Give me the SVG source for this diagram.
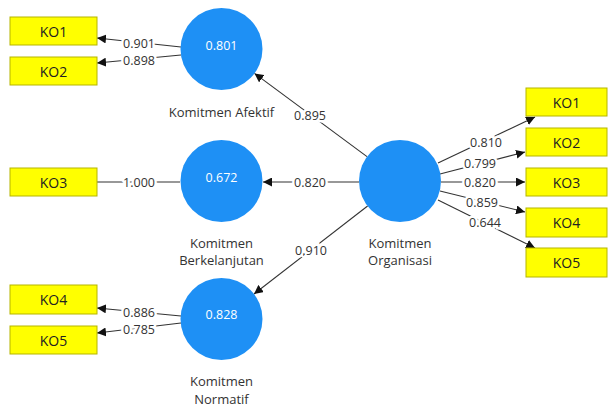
<svg xmlns="http://www.w3.org/2000/svg" width="608" height="409" viewBox="0 0 608 409">
<style>
.box{fill:#ffff00;stroke:#b5b500;stroke-width:1}
.lv{fill:#1e90f5}
.bt{font-family:"Open Sans",sans-serif;font-size:14px;fill:#222;text-anchor:middle;dominant-baseline:central}
.vt{font-family:"Open Sans",sans-serif;font-size:12.5px;fill:#fff;text-anchor:middle;dominant-baseline:central}
.nt{font-family:"Open Sans",sans-serif;font-size:13px;fill:#333;text-anchor:middle;dominant-baseline:central}
.lt{font-family:"Open Sans",sans-serif;font-size:12.5px;fill:#333;text-anchor:middle;dominant-baseline:central;stroke:#fff;stroke-width:5;paint-order:stroke}
.ln{stroke:#333;stroke-width:1.1;fill:none}
.ar{marker-end:url(#ah)}
</style>
<defs>
<marker id="ah" viewBox="0 0 10 10" refX="10" refY="5" markerWidth="9" markerHeight="9" markerUnits="userSpaceOnUse" orient="auto">
<path d="M0,0 L10,5 L0,10 z" fill="#111"/>
</marker>
</defs>
<rect width="608" height="409" fill="#fff"/>
<g id="connectors">
<line class="ln ar" x1="181" y1="47" x2="97" y2="38"/>
<line class="ln ar" x1="181" y1="55" x2="97" y2="63"/>
<line class="ln" x1="180" y1="182" x2="97" y2="182"/>
<line class="ln ar" x1="181" y1="316" x2="97" y2="308"/>
<line class="ln ar" x1="181" y1="323" x2="97" y2="333"/>
<line class="ln ar" x1="367" y1="156.6" x2="254.5" y2="73.4"/>
<line class="ln ar" x1="359" y1="182" x2="263" y2="182"/>
<line class="ln ar" x1="367.6" y1="206" x2="254" y2="294"/>
<line class="ln ar" x1="438" y1="163" x2="535" y2="117"/>
<line class="ln ar" x1="440" y1="174" x2="525" y2="152"/>
<line class="ln ar" x1="441" y1="182" x2="525" y2="182"/>
<line class="ln ar" x1="440" y1="191" x2="525" y2="212"/>
<line class="ln ar" x1="438" y1="200" x2="535" y2="248"/>
<text class="lt" x="139" y="43">0.901</text>
<text class="lt" x="139" y="60">0.898</text>
<text class="lt" x="139" y="182">1.000</text>
<text class="lt" x="139" y="312">0.886</text>
<text class="lt" x="139" y="329">0.785</text>
<text class="lt" x="310" y="115">0.895</text>
<text class="lt" x="310" y="182">0.820</text>
<text class="lt" x="311" y="250">0.910</text>
<text class="lt" x="486" y="142">0.810</text>
<text class="lt" x="480" y="163">0.799</text>
<text class="lt" x="480" y="182">0.820</text>
<text class="lt" x="482" y="202">0.859</text>
<text class="lt" x="485" y="222">0.644</text>
</g>
<g id="L_KO1"><rect class="box" x="10" y="17" width="87" height="28"/><text class="bt" x="53.5" y="31">KO1</text></g>
<g id="L_KO2"><rect class="box" x="10" y="57" width="87" height="28"/><text class="bt" x="53.5" y="71">KO2</text></g>
<g id="L_KO3"><rect class="box" x="10" y="168" width="87" height="28"/><text class="bt" x="53.5" y="182">KO3</text></g>
<g id="L_KO4"><rect class="box" x="10" y="285" width="87" height="29"/><text class="bt" x="53.5" y="299.5">KO4</text></g>
<g id="L_KO5"><rect class="box" x="10" y="326" width="87" height="28"/><text class="bt" x="53.5" y="340">KO5</text></g>
<g id="R_KO1"><rect class="box" x="526" y="88" width="81" height="28"/><text class="bt" x="566.5" y="102">KO1</text></g>
<g id="R_KO2"><rect class="box" x="526" y="128" width="81" height="28"/><text class="bt" x="566.5" y="142">KO2</text></g>
<g id="R_KO3"><rect class="box" x="526" y="168" width="81" height="28"/><text class="bt" x="566.5" y="182">KO3</text></g>
<g id="R_KO4"><rect class="box" x="526" y="208" width="81" height="29"/><text class="bt" x="566.5" y="222.5">KO4</text></g>
<g id="R_KO5"><rect class="box" x="526" y="248" width="81" height="29"/><text class="bt" x="566.5" y="262.5">KO5</text></g>
<g id="afektif"><circle class="lv" cx="221.5" cy="49" r="41"/><text class="vt" x="221.5" y="45">0.801</text><text class="nt" x="221.5" y="112">Komitmen Afektif</text></g>
<g id="berkelanjutan"><circle class="lv" cx="221.5" cy="181" r="41"/><text class="vt" x="221.5" y="177">0.672</text><text class="nt" x="221.5" y="242.5">Komitmen</text><text class="nt" x="221.5" y="260">Berkelanjutan</text></g>
<g id="normatif"><circle class="lv" cx="221.5" cy="319" r="41"/><text class="vt" x="221.5" y="314">0.828</text><text class="nt" x="221.5" y="381">Komitmen</text><text class="nt" x="221.5" y="398.5">Normatif</text></g>
<g id="organisasi"><circle class="lv" cx="400" cy="181" r="41"/><text class="nt" x="400" y="242.5">Komitmen</text><text class="nt" x="400" y="260">Organisasi</text></g>
</svg>
